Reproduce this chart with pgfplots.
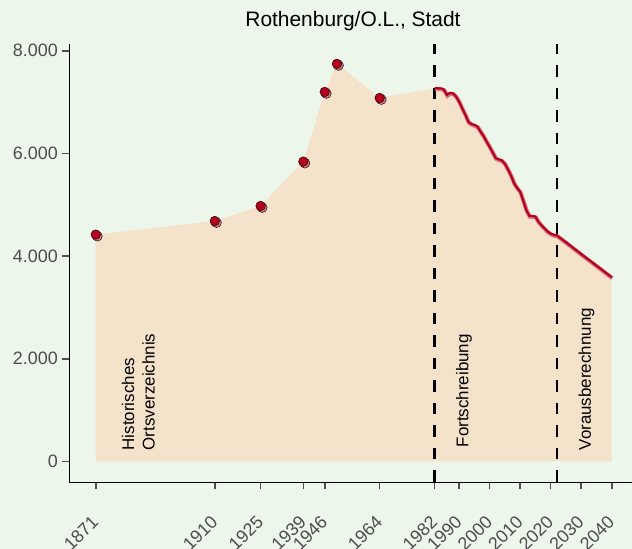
\documentclass[border=0pt]{standalone}
\usepackage{pgfplots}
\usepackage{pgfplotstable}
\pgfplotsset{compat=1.18}
\usepackage{fontspec}
\setmainfont{Liberation Sans}
\definecolor{bg}{HTML}{EDF6EB}
\definecolor{areac}{HTML}{F5E2CA}
\definecolor{dred}{HTML}{B3001E}
\definecolor{lred}{HTML}{D8717C}
\definecolor{tickgray}{HTML}{4D4D4D}

\pgfplotstableread{
year pop
1871 4420
1910 4684
1925 4977
1939 5842
1946 7199
1950 7745
1964 7082
}\hist

\pgfplotstableread{
year pop
1982 7270
1983 7270
1984 7268
1985 7245
1986 7140
1987 7180
1988 7170
1989 7110
1990 7010
1991 6880
1992 6760
1993 6620
1994 6575
1995 6555
1996 6525
1997 6430
1998 6340
1999 6230
2000 6130
2001 6020
2002 5910
2003 5885
2004 5865
2005 5800
2006 5690
2007 5570
2008 5420
2009 5330
2010 5255
2011 5080
2012 4900
2013 4785
2014 4782
2015 4770
2016 4670
2017 4600
2018 4540
2019 4480
2020 4440
2021 4415
2022 4405
2025 4270
2030 4040
2035 3815
2040 3588
}\fort

\pgfplotstableread{
year pop
1871 4420
1910 4684
1925 4977
1939 5842
1946 7199
1950 7745
1964 7082
1982 7270
1983 7270
1984 7268
1985 7245
1986 7140
1987 7180
1988 7170
1989 7110
1990 7010
1991 6880
1992 6760
1993 6620
1994 6575
1995 6555
1996 6525
1997 6430
1998 6340
1999 6230
2000 6130
2001 6020
2002 5910
2003 5885
2004 5865
2005 5800
2006 5690
2007 5570
2008 5420
2009 5330
2010 5255
2011 5080
2012 4900
2013 4785
2014 4782
2015 4770
2016 4670
2017 4600
2018 4540
2019 4480
2020 4440
2021 4415
2022 4405
2025 4270
2030 4040
2035 3815
2040 3588
}\areatab

\begin{document}
\begin{tikzpicture}
\fill[bg] (0,0) rectangle (632bp,549bp);
\begin{axis}[
  at={(69bp,67bp)}, anchor=south west, scale only axis,
  width=568.5bp, height=438bp,
  xmin=1862.25, xmax=2048.45, ymin=-400, ymax=8132,
  axis lines=left,
  axis line style={-, black, line width=0.9bp},
  tick align=outside,
  major tick length=7bp,
  every tick/.style={tickgray, line width=1.6bp},
  xtick={1871,1910,1925,1939,1946,1964,1982,1990,2000,2010,2020,2030,2040},
  xticklabels={1871,1910,1925,1939,1946,1964,1982,1990,2000,2010,2020,2030,2040},
  ytick={0,2000,4000,6000,8000},
  yticklabels={0,2.000,4.000,6.000,8.000},
  /pgf/number format/assume math mode=true,
  ticklabel style={font=\fontsize{18}{20}\selectfont, text=tickgray},
  xticklabel shift=12bp,
  xticklabel style={rotate=45, anchor=north east, inner sep=0pt, xshift=-12.7bp, yshift=-5.6bp},
  yticklabel style={anchor=east, inner sep=0pt, xshift=-4bp},
]
\addplot[fill=areac, draw=none] table {\areatab} \closedcycle;
\addplot[black, line width=2.6bp, dash pattern=on 11.5bp off 11bp] coordinates {(1982,-400) (1982,8132)};
\addplot[black, line width=2.6bp, dash pattern=on 11.5bp off 11bp] coordinates {(2022.1,-400) (2022.1,8132)};
\addplot[lred, line width=4bp, yshift=-0.9bp, xshift=0.6bp] table {\fort};
\addplot[dred, line width=2.1bp] table {\fort};
\addplot[only marks, mark=*, mark size=5bp, mark options={fill=lred, draw=none, xshift=1.6bp, yshift=-1.6bp}] table {\hist};
\addplot[only marks, mark=*, mark size=4.8bp, mark options={fill=dred, draw=none}] table {\hist};
\node[rotate=90, anchor=north west, align=left, inner sep=0pt, font=\fontsize{17}{20.5}\selectfont] at (axis cs:1879.5,214) {Historisches\\Ortsverzeichnis};
\node[rotate=90, anchor=north west, inner sep=0pt, font=\fontsize{17}{20.5}\selectfont] at (axis cs:1989.0,273) {Fortschreibung};
\node[rotate=90, anchor=north west, inner sep=0pt, font=\fontsize{17}{20.5}\selectfont] at (axis cs:2029.1,214) {Vorausberechnung};
\end{axis}
\node[anchor=base, font=\fontsize{21}{25}\selectfont] at (353bp,522bp) {Rothenburg/O.L., Stadt};
\pgfresetboundingbox
\path[use as bounding box] (0,0) rectangle (632bp,549bp);
\end{tikzpicture}
\end{document}
